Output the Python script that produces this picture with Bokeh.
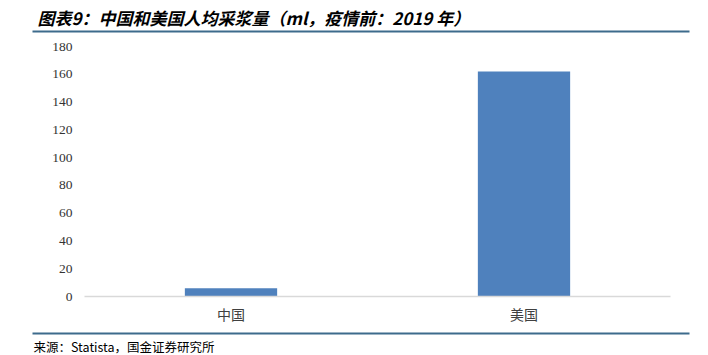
from bokeh.plotting import figure
from bokeh.models import FixedTicker, ColumnDataSource
from bokeh.layouts import column
from bokeh.core.properties import value
from bokeh.embed import file_html
from bokeh.resources import INLINE

categories = ["中国", "美国"]
values = [6, 162]
y_ticks = [0, 20, 40, 60, 80, 100, 120, 140, 160, 180]
title_text = "图表9：中国和美国人均采浆量（ml，疫情前：2019 年）"
source_text = "来源：Statista，国金证券研究所"

W = 708
TOP_H = 38      # canvas rows 0..38
MAIN_H = 290    # canvas rows 38..328
BOT_H = 27      # canvas rows 328..355
FL, FR = 84, 670
FT, FB = 46, 296
LINE_COLOR = "#3D6B8C"


def deco_fig(h, y0):
    f = figure(width=W, height=h, x_range=(0, W), y_range=(y0 + h, y0),
               output_backend="svg", toolbar_location=None,
               min_border=0, min_border_left=0, min_border_right=0,
               min_border_top=0, min_border_bottom=0, frame_align=False)
    f.xaxis.visible = False
    f.yaxis.visible = False
    f.grid.visible = False
    f.outline_line_color = None
    f.background_fill_color = "white"
    f.border_fill_color = "white"
    return f


# --- header ---
top = deco_fig(TOP_H, 0)
top.text(x=[37], y=[17], text=[title_text], text_font=value("Noto Sans CJK SC"),
         text_font_style="bold italic", text_font_size="17px", text_color="#000000",
         text_baseline="middle", text_align="left")
top.segment(x0=[32], x1=[689], y0=[31], y1=[31], line_color=LINE_COLOR, line_width=2)

# --- main chart ---
p = figure(width=W, height=MAIN_H, x_range=categories, y_range=(0, 180),
           output_backend="svg", toolbar_location=None, frame_align=False,
           min_border_left=FL, min_border_right=W - FR,
           min_border_top=FT - TOP_H, min_border_bottom=TOP_H + MAIN_H - FB)
p.outline_line_color = None
p.background_fill_color = "white"
p.border_fill_color = "white"

src = ColumnDataSource(dict(cat=categories, val=values))
p.vbar(x="cat", top="val", width=0.315, source=src, color="#4F81BD", line_color=None)

p.xgrid.grid_line_color = None
p.ygrid.grid_line_color = None

p.yaxis.ticker = FixedTicker(ticks=y_ticks)
p.yaxis.axis_line_color = None
p.yaxis.major_tick_line_color = None
p.yaxis.minor_tick_line_color = None
p.yaxis.major_tick_out = 0
p.yaxis.major_tick_in = 0
p.yaxis.major_label_standoff = 12
p.yaxis.major_label_text_font = "'Liberation Serif', serif"
p.yaxis.major_label_text_font_size = "13.5px"
p.yaxis.major_label_text_color = "#333333"

p.xaxis.axis_line_color = "#D9D9D9"
p.xaxis.axis_line_width = 1.5
p.xaxis.major_tick_line_color = None
p.xaxis.minor_tick_line_color = None
p.xaxis.major_tick_out = 0
p.xaxis.major_tick_in = 0
p.xaxis.major_label_standoff = 7
p.xaxis.major_label_text_font = "Noto Sans CJK SC"
p.xaxis.major_label_text_font_size = "14px"
p.xaxis.major_label_text_color = "#404040"

# --- footer ---
bot = deco_fig(BOT_H, TOP_H + MAIN_H)
bot.segment(x0=[32], x1=[689], y0=[333], y1=[333], line_color=LINE_COLOR, line_width=2)
bot.text(x=[33], y=[346], text=[source_text], text_font=value("Noto Sans CJK SC"),
         text_font_size="12.5px", text_color="#000000",
         text_baseline="middle", text_align="left")

layout = column(top, p, bot, spacing=0)
open("out.html", "w").write(file_html(layout, INLINE))
